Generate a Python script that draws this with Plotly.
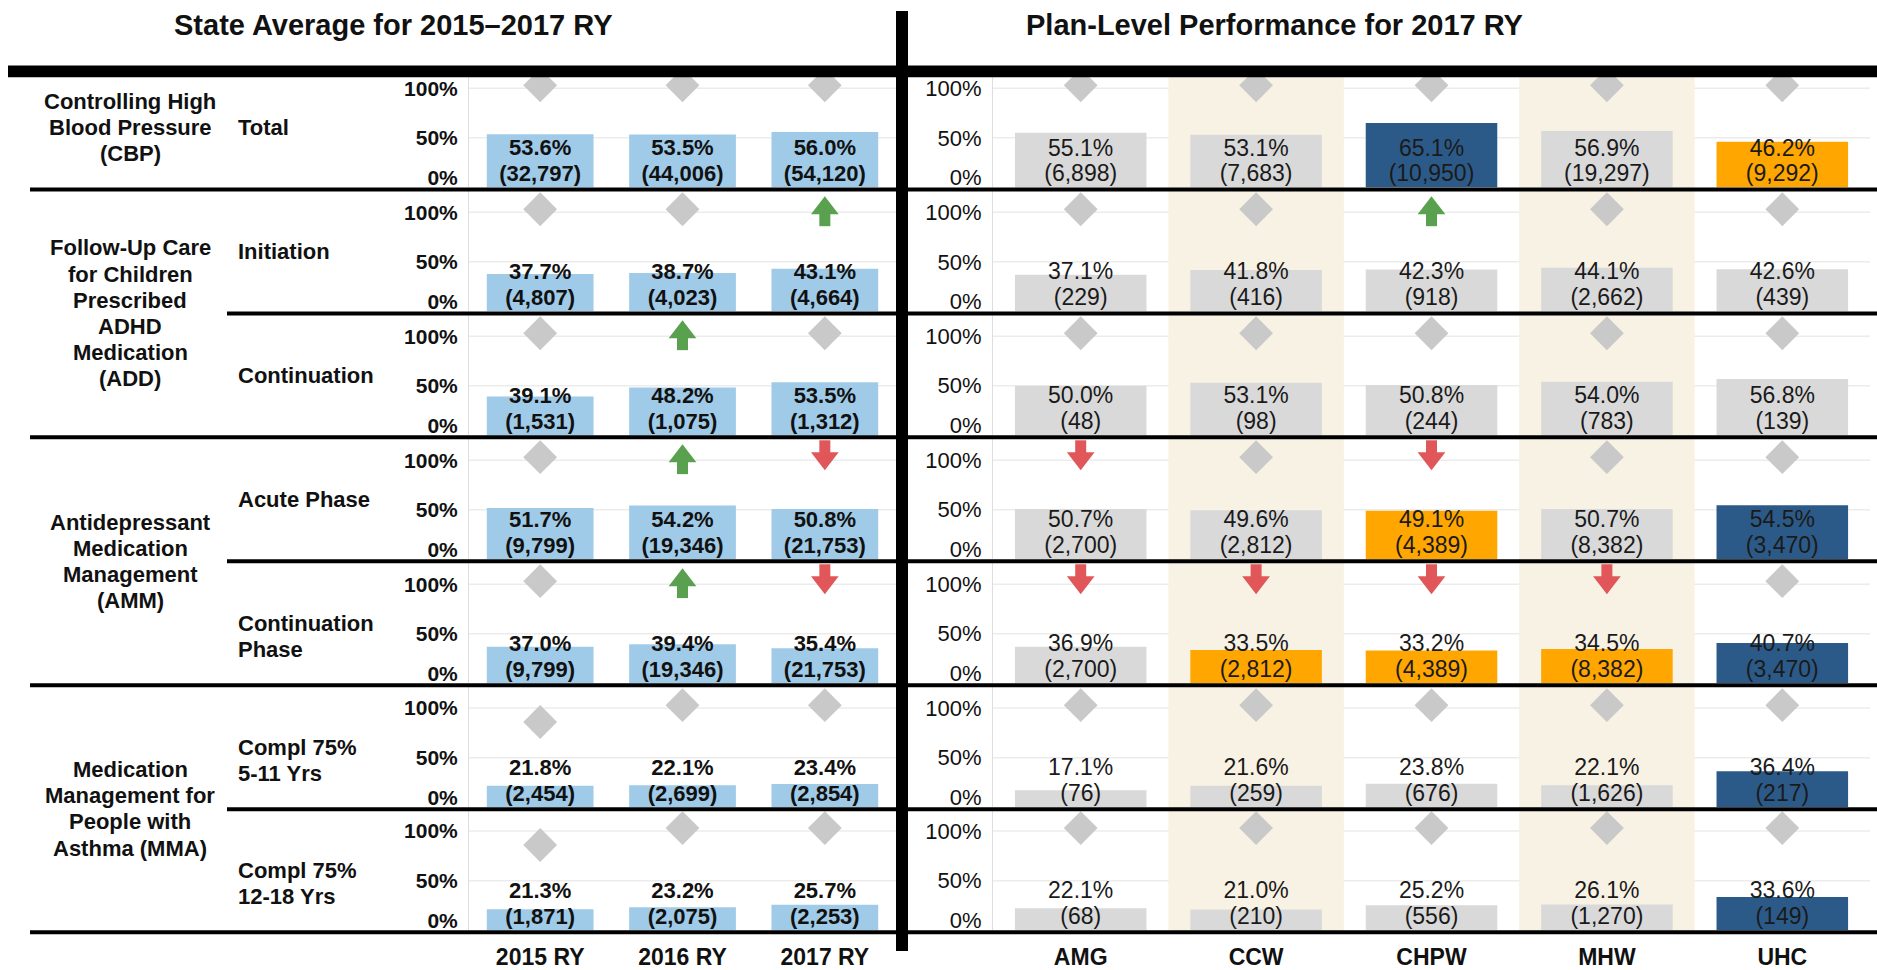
import plotly.graph_objects as go

W, H = 1877, 970
FONT = "Liberation Sans, Arial, Helvetica, sans-serif"

# ---------------- data ----------------
YEARS = ["2015 RY", "2016 RY", "2017 RY"]
PLANS = ["AMG", "CCW", "CHPW", "MHW", "UHC"]

GROUP_LABELS = [
    ["Controlling High", "Blood Pressure", "(CBP)"],
    ["Follow-Up Care", "for Children", "Prescribed", "ADHD", "Medication", "(ADD)"],
    ["Antidepressant", "Medication", "Management", "(AMM)"],
    ["Medication", "Management for", "People with", "Asthma (MMA)"],
]
GROUP_ROWS = [[0], [1, 2], [3, 4], [5, 6]]

MEASURE_LABELS = [
    ["Total"],
    ["Initiation"],
    ["Continuation"],
    ["Acute Phase"],
    ["Continuation", "Phase"],
    ["Compl 75%", "5-11 Yrs"],
    ["Compl 75%", "12-18 Yrs"],
]

STATE_RATE = [
    [53.6, 53.5, 56.0],
    [37.7, 38.7, 43.1],
    [39.1, 48.2, 53.5],
    [51.7, 54.2, 50.8],
    [37.0, 39.4, 35.4],
    [21.8, 22.1, 23.4],
    [21.3, 23.2, 25.7],
]
STATE_N = [
    ["32,797", "44,006", "54,120"],
    ["4,807", "4,023", "4,664"],
    ["1,531", "1,075", "1,312"],
    ["9,799", "19,346", "21,753"],
    ["9,799", "19,346", "21,753"],
    ["2,454", "2,699", "2,854"],
    ["1,871", "2,075", "2,253"],
]
# '=' no significant change, '+' significant increase, '-' significant decrease,
# 'n' not comparable (lower diamond)
STATE_SIG = [
    ["=", "=", "="],
    ["=", "=", "+"],
    ["=", "+", "="],
    ["=", "+", "-"],
    ["=", "+", "-"],
    ["n", "=", "="],
    ["n", "=", "="],
]

PLAN_RATE = [
    [55.1, 53.1, 65.1, 56.9, 46.2],
    [37.1, 41.8, 42.3, 44.1, 42.6],
    [50.0, 53.1, 50.8, 54.0, 56.8],
    [50.7, 49.6, 49.1, 50.7, 54.5],
    [36.9, 33.5, 33.2, 34.5, 40.7],
    [17.1, 21.6, 23.8, 22.1, 36.4],
    [22.1, 21.0, 25.2, 26.1, 33.6],
]
PLAN_N = [
    ["6,898", "7,683", "10,950", "19,297", "9,292"],
    ["229", "416", "918", "2,662", "439"],
    ["48", "98", "244", "783", "139"],
    ["2,700", "2,812", "4,389", "8,382", "3,470"],
    ["2,700", "2,812", "4,389", "8,382", "3,470"],
    ["76", "259", "676", "1,626", "217"],
    ["68", "210", "556", "1,270", "149"],
]
PLAN_PERF = [
    ["avg", "avg", "high", "avg", "low"],
    ["avg", "avg", "avg", "avg", "avg"],
    ["avg", "avg", "avg", "avg", "avg"],
    ["avg", "avg", "low", "avg", "high"],
    ["avg", "low", "low", "low", "high"],
    ["avg", "avg", "avg", "avg", "high"],
    ["avg", "avg", "avg", "avg", "high"],
]
PLAN_SIG = [
    ["=", "=", "=", "=", "="],
    ["=", "=", "+", "=", "="],
    ["=", "=", "=", "=", "="],
    ["-", "=", "-", "=", "="],
    ["-", "-", "-", "-", "="],
    ["=", "=", "=", "=", "="],
    ["=", "=", "=", "=", "="],
]
SHADED_PLANS = ["CCW", "MHW"]

# ---------------- style ----------------
STATE_COLOR = "#A0CBE8"
PERF_COLOR = {"avg": "#D9D9D9", "high": "#2C5A88", "low": "#FFA600"}
DIAMOND_COLOR = "#C9C9C9"
UP_COLOR = "#59A14F"
DOWN_COLOR = "#E15759"
SHADE_COLOR = "#F8F2E4"
GRID_COLOR = "#ECECEC"

# row band separators (pixels from top)
SEP = [65, 190, 315, 440, 565, 690, 815, 939]
LEFT_X = (469, 896)
RIGHT_X = (993, 1870)
PCT_Y, N_Y = 0.38, 0.12
IND_Y = {"=": 1.03, "n": 0.86}
DIAMOND_SIZE = 26
HEAD_SIZE = 24
SHAFT_W = 11
SHAFT_SIZE = 10


def pxx(x):
    return x / W


def pxy(y):
    return 1 - y / H


fig = go.Figure()
layout = dict(
    width=W, height=H, margin=dict(l=0, r=0, t=0, b=0), autosize=False,
    paper_bgcolor="white", plot_bgcolor="rgba(0,0,0,0)",
    bargap=0.25, showlegend=False, font=dict(family=FONT, color="#111"),
)
shapes = []
annotations = []


def add_indicators(cats, sig, xa, ya):
    dx = [c for c, s in zip(cats, sig) if s in ("=", "n")]
    dy = [IND_Y[s] for s in sig if s in ("=", "n")]
    if dx:
        fig.add_trace(go.Scatter(x=dx, y=dy, mode="markers", xaxis=xa, yaxis=ya,
                                 marker=dict(symbol="diamond", size=DIAMOND_SIZE, color=DIAMOND_COLOR,
                                             line=dict(width=0)),
                                 cliponaxis=False, hoverinfo="skip"))
    ux = [c for c, s in zip(cats, sig) if s == "+"]
    if ux:
        fig.add_trace(go.Scatter(x=ux, y=[0.93] * len(ux), mode="markers", xaxis=xa, yaxis=ya,
                                 marker=dict(symbol="line-ns", size=SHAFT_SIZE,
                                             line=dict(width=SHAFT_W, color=UP_COLOR)),
                                 cliponaxis=False, hoverinfo="skip"))
        fig.add_trace(go.Scatter(x=ux, y=[1.04] * len(ux), mode="markers", xaxis=xa, yaxis=ya,
                                 marker=dict(symbol="triangle-up", size=HEAD_SIZE, color=UP_COLOR,
                                             line=dict(width=0)),
                                 cliponaxis=False, hoverinfo="skip"))
    wx = [c for c, s in zip(cats, sig) if s == "-"]
    if wx:
        fig.add_trace(go.Scatter(x=wx, y=[1.13] * len(wx), mode="markers", xaxis=xa, yaxis=ya,
                                 marker=dict(symbol="line-ns", size=SHAFT_SIZE,
                                             line=dict(width=SHAFT_W, color=DOWN_COLOR)),
                                 cliponaxis=False, hoverinfo="skip"))
        fig.add_trace(go.Scatter(x=wx, y=[1.02] * len(wx), mode="markers", xaxis=xa, yaxis=ya,
                                 marker=dict(symbol="triangle-down", size=HEAD_SIZE, color=DOWN_COLOR,
                                             line=dict(width=0)),
                                 cliponaxis=False, hoverinfo="skip"))


for i in range(7):
    top = SEP[i] + (12 if i == 0 else 2)
    bot = SEP[i + 1] - 2
    yrange = [0, (bot - top) / 100.0]
    for c in range(2):
        n = 2 * i + c + 1
        xa = "x" if n == 1 else f"x{n}"
        ya = "y" if n == 1 else f"y{n}"
        if c == 0:
            cats, rates, ns, sig = YEARS, STATE_RATE[i], STATE_N[i], STATE_SIG[i]
            colors = [STATE_COLOR] * len(cats)
            bold = True
            xdom = LEFT_X
        else:
            cats, rates, ns, sig = PLANS, PLAN_RATE[i], PLAN_N[i], PLAN_SIG[i]
            colors = [PERF_COLOR[p] for p in PLAN_PERF[i]]
            bold = False
            xdom = RIGHT_X

        fig.add_trace(go.Bar(x=cats, y=[v / 100 for v in rates], marker=dict(color=colors, line=dict(width=0)),
                             xaxis=xa, yaxis=ya, hoverinfo="skip"))
        if bold:
            pct = [f"<b>{v:.1f}%</b>" for v in rates]
            cnt = [f"<b>({s})</b>" for s in ns]
            tf = dict(family=FONT, size=22, color="#111")
        else:
            pct = [f"{v:.1f}%" for v in rates]
            cnt = [f"({s})" for s in ns]
            tf = dict(family=FONT, size=23, color="#1a1a1a")
        fig.add_trace(go.Scatter(x=cats, y=[PCT_Y] * len(cats), mode="text", text=pct,
                                 textfont=tf, xaxis=xa, yaxis=ya, cliponaxis=False, hoverinfo="skip"))
        fig.add_trace(go.Scatter(x=cats, y=[N_Y] * len(cats), mode="text", text=cnt,
                                 textfont=tf, xaxis=xa, yaxis=ya, cliponaxis=False, hoverinfo="skip"))
        add_indicators(cats, sig, xa, ya)

        # gridlines at 50% and 100%
        for g in (0.5, 1.0):
            shapes.append(dict(type="line", xref=f"{xa} domain", yref=ya, x0=0, x1=1, y0=g, y1=g,
                               line=dict(color=GRID_COLOR, width=1.5), layer="below"))

        tick_text = ["0%", "50%", "100%"]
        if bold:
            tick_text = [f"<b>{t}</b>" for t in tick_text]
        xkey = "xaxis" if n == 1 else f"xaxis{n}"
        ykey = "yaxis" if n == 1 else f"yaxis{n}"
        xticks = [f"<b>{t}</b>" for t in cats]
        layout[xkey] = dict(
            domain=[pxx(xdom[0]), pxx(xdom[1])], anchor=ya, type="category",
            categoryorder="array", categoryarray=cats,
            range=[-0.5, len(cats) - 0.5], showgrid=False, zeroline=False, showline=False,
            showticklabels=(i == 6), tickmode="array", tickvals=cats, ticktext=xticks,
            ticks="outside", ticklen=6, tickcolor="rgba(0,0,0,0)",
            tickfont=dict(family=FONT, size=23, color="#111"), fixedrange=True,
        )
        layout[ykey] = dict(
            domain=[pxy(bot), pxy(top)], anchor=xa, range=yrange,
            tickmode="array", tickvals=[0.1, 0.5, 1.0], ticktext=tick_text,
            ticks="outside", ticklen=6, tickcolor="rgba(0,0,0,0)",
            tickfont=dict(family=FONT, size=21 if bold else 22, color="#111"),
            showgrid=False, zeroline=False, showline=True, linecolor="#DEDEDE", linewidth=1,
            fixedrange=True,
        )

# beige banding of plan columns
for p in SHADED_PLANS:
    k = PLANS.index(p)
    shapes.append(dict(type="rect", xref="x2", yref="paper", x0=k - 0.5, x1=k + 0.5,
                       y0=pxy(SEP[-1]), y1=pxy(SEP[0] + 12), fillcolor=SHADE_COLOR,
                       line=dict(width=0), layer="below"))

# separators
GROUP_STARTS = {r[0] for r in GROUP_ROWS}
for j in range(1, len(SEP)):
    x0 = 30 if (j == len(SEP) - 1 or j in GROUP_STARTS) else 227
    shapes.append(dict(type="line", xref="paper", yref="paper", x0=pxx(x0), x1=1,
                       y0=pxy(SEP[j]), y1=pxy(SEP[j]), line=dict(color="black", width=4), layer="above"))
# thick header rule and vertical divider
shapes.append(dict(type="rect", xref="paper", yref="paper", x0=pxx(8), x1=1,
                   y0=pxy(SEP[0] + 12), y1=pxy(SEP[0]), fillcolor="black", line=dict(width=0), layer="above"))
shapes.append(dict(type="rect", xref="paper", yref="paper", x0=pxx(896), x1=pxx(908),
                   y0=pxy(958), y1=pxy(10), fillcolor="black", line=dict(width=0), layer="above"))

# titles
annotations.append(dict(text="<b>State Average for 2015–2017 RY</b>", x=pxx(393), y=pxy(24),
                        xref="paper", yref="paper", showarrow=False, xanchor="center", yanchor="middle",
                        font=dict(family=FONT, size=29, color="#111")))
annotations.append(dict(text="<b>Plan-Level Performance for 2017 RY</b>", x=pxx(1274), y=pxy(24),
                        xref="paper", yref="paper", showarrow=False, xanchor="center", yanchor="middle",
                        font=dict(family=FONT, size=29, color="#111")))

LINE_H = 26.4
for lines, rows in zip(GROUP_LABELS, GROUP_ROWS):
    center = (SEP[rows[0]] + SEP[rows[-1] + 1]) / 2
    for k, t in enumerate(lines):
        yy = center + (k - (len(lines) - 1) / 2) * LINE_H
        annotations.append(dict(text=f"<b>{t}</b>", x=pxx(130), y=pxy(yy), xref="paper", yref="paper",
                                showarrow=False, xanchor="center", yanchor="middle",
                                font=dict(family=FONT, size=22, color="#111")))
for i, lines in enumerate(MEASURE_LABELS):
    mid = (SEP[i] + SEP[i + 1]) / 2
    for k, t in enumerate(lines):
        annotations.append(dict(text=f"<b>{t}</b>", x=pxx(236), y=pxy(mid + k * LINE_H), xref="paper",
                                yref="paper", showarrow=False, xanchor="left", yanchor="middle",
                                font=dict(family=FONT, size=22, color="#111")))

layout["shapes"] = shapes
layout["annotations"] = annotations
fig.update_layout(**layout)

fig.write_html("out.html", post_script="document.body.style.margin='0';",
               config={"displayModeBar": False})
